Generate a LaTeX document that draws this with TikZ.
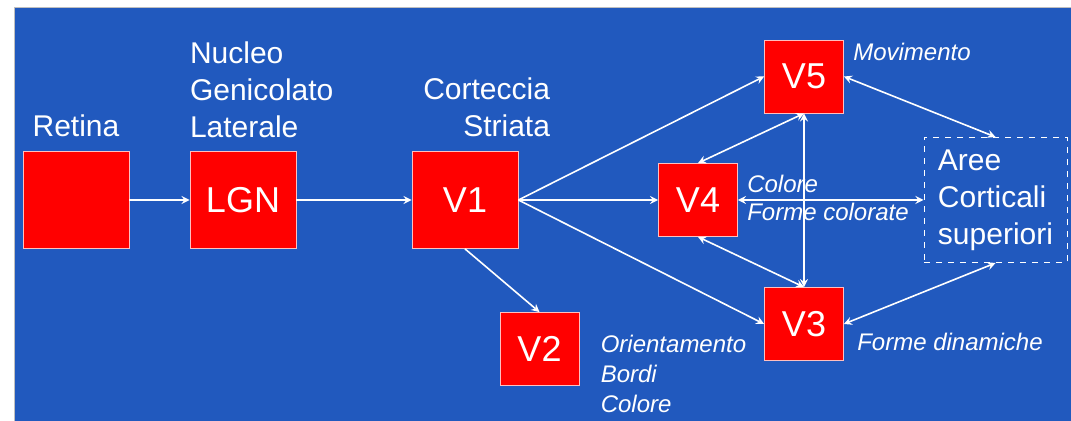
\documentclass[tikz,border=0pt]{standalone}
\usepackage{fontspec}
\setmainfont{Liberation Sans}
\usepackage{xcolor}
\usetikzlibrary{arrows, positioning}
\definecolor{slideblue}{RGB}{33,89,190}
\tikzset{
    area/.style={rectangle, minimum width=53pt, minimum height=48.5pt, inner sep=0pt, text centered, draw=white!75!red, line width=0.4pt, fill=red, text=white, font=\fontsize{18}{21}\selectfont},
    small area/.style={area, minimum width=39.5pt, minimum height=36.5pt},
    higher/.style={rectangle, dashed, draw=white, line width=0.5pt, minimum width=71.5pt, minimum height=62.5pt, align=left, text=white, font=\fontsize{15}{18.5}\selectfont},
    title/.style={text=white, inner sep=0pt, font=\fontsize{15}{18.5}\selectfont},
    role/.style={text=white, inner sep=0pt, font=\fontsize{12}{15}\selectfont\itshape},
    arrow/.style={thick, white, ->, >=stealth},
    both/.style={arrow, <->}
}

\begin{document}
\begin{tikzpicture}[x=0.5pt, y=0.5pt, node distance=80pt]
    % slide background
    \useasboundingbox (0,0) rectangle (1071,421);
    \fill [slideblue, draw=gray!50] (14,0) rectangle (1071,414);

    \node (retina) [area] at (76,221) {};
    \node (lgn) [area, right of=retina, xshift=3.5pt] {LGN};
    \node (v1) [area, right of=lgn, xshift=31pt] {V1};
    \node (v4) [small area, right of=v1, xshift=36.5pt] {V4};
    \node (v5) [small area, above of=v4, xshift=53pt, yshift=-18.25pt] {V5};
    \node (v3) [small area, below of=v4, xshift=53pt, yshift=18pt] {V3};
    \node (v2) [small area, below of=v1, xshift=37.25pt, yshift=5.5pt] {V2};
    \node (aree) [higher, right of=v4, xshift=68.75pt] {Aree\\Corticali\\superiori};

    % labels
    \node (retinalabel) [title, anchor=base] at ([yshift=7.5pt]retina.north) {Retina};
    \node (lgnlabel) [title, align=left, anchor=south west] at ([yshift=6.5pt]lgn.north west) {Nucleo\\Genicolato\\Laterale};
    \node (v1label) [title, align=right, anchor=south east] at ([xshift=16pt, yshift=7pt]v1.north east) {Corteccia\\Striata};
    \node (v2label) [role, align=left, anchor=north west] at ([xshift=10.5pt, yshift=-11.5pt]v2.north east) {Orientamento\\Bordi\\Colore};
    \node (v5label) [role, anchor=base west] at ([xshift=4.5pt, yshift=-10.5pt]v5.north east) {Movimento};
    \node (v3label) [role, anchor=base west] at ([xshift=6.5pt, yshift=5pt]v3.south east) {Forme dinamiche};
    \node (v4top) [role, anchor=base west] at ([xshift=4.5pt, yshift=3.75pt]v4.east) {Colore};
    \node (v4bottom) [role, anchor=base west] at ([xshift=4.5pt, yshift=-10.25pt]v4.east) {Forme colorate};

    \draw [arrow] (retina) -- (lgn);
    \draw [arrow] (lgn) -- (v1);
    \draw [arrow] (v1.east) -- (v5.west);
    \draw [arrow] (v1.east) -- (v4.west);
    \draw [arrow] (v1.east) -- (v3.west);
    \draw [arrow] (v1.south) -- (v2.north);
    \draw [both] (v4.north) -- (v5.south);
    \draw [both] (v4.south) -- (v3.north);
    \draw [both] (v5.south) -- (v3.north);
    \draw [both] (v4.east) -- (aree.west);
    \draw [both] (v5.east) -- (aree.north);
    \draw [both] (v3.east) -- (aree.south);
\end{tikzpicture}
\end{document}
